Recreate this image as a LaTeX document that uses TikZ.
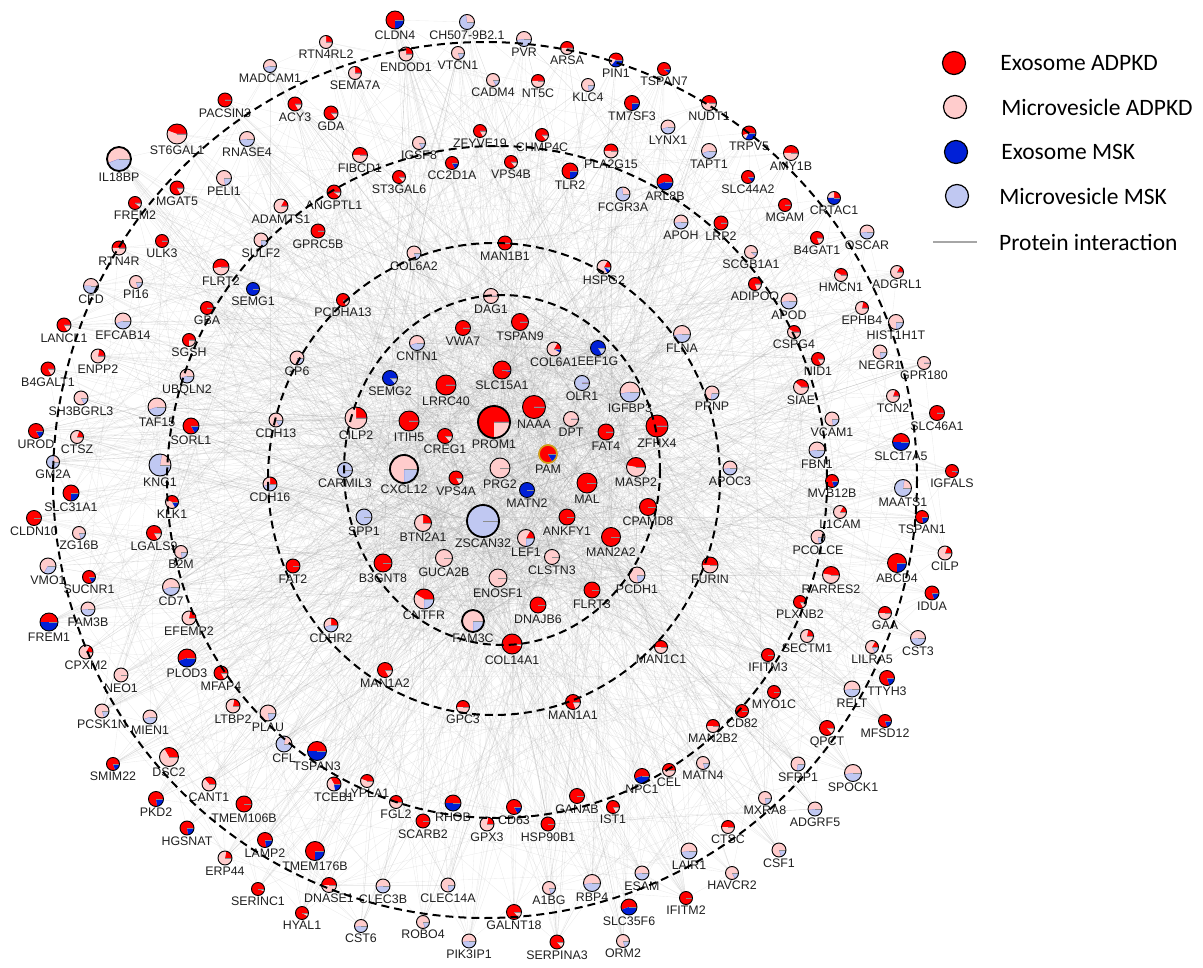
\documentclass[tikz,border=0pt]{standalone}
\usepackage{fontspec}
\setmainfont{Liberation Sans}
\newfontfamily\legfont{Carlito}
\usepackage{tikz}
\usetikzlibrary{positioning}
\usetikzlibrary{backgrounds}
\definecolor{exored}{RGB}{255,0,0}
\definecolor{mvpink}{RGB}{255,204,204}
\definecolor{exblue}{RGB}{0,32,215}
\definecolor{mvblue}{RGB}{192,200,242}
\definecolor{pamgold}{RGB}{214,160,20}
\tikzset{prot/.style={circle, draw=black, line width=.9pt, inner sep=0pt}}
\tikzset{lbl/.style={font=\fontsize{12.4}{13}\selectfont, text=black!88, inner sep=1pt}}
\tikzset{legtxt/.style={font=\legfont\fontsize{23.5}{26}\selectfont, inner sep=0pt}}
\tikzset{link/.style={draw=black!40, opacity=.2, line width=.35pt}}
\tikzset{ring/.style={draw=black, line width=2pt, dash pattern=on 8pt off 5pt}}
\tikzset{spoke/.style={draw=black!45, line width=.4pt}}
\newcount\protn
\newcommand{\prot}[8]{%
  \global\advance\protn by 1
  \fill[mvblue] (#2,#3) circle[radius=#4];
  \fill[exored] (#2,#3) -- +(0:#4) arc[start angle=0, end angle=-#5, radius=#4] -- cycle;
  \fill[mvpink] (#2,#3) -- +(-#5:#4) arc[start angle=-#5, end angle=-#6, radius=#4] -- cycle;
  \fill[exblue] (#2,#3) -- +(-#6:#4) arc[start angle=-#6, end angle=-#7, radius=#4] -- cycle;
  \draw[spoke] (#2,#3) -- +(0:#4);
  \node[prot, minimum size=2*#4pt, alias=p\the\protn, label={[lbl]below:#8}] (#1) at (#2,#3) {};
}
\begin{document}
\begin{tikzpicture}[x=1pt, y=-1pt, line join=round]
\useasboundingbox (0,0) rectangle (1203,968);
\prot{RTNFRLtwo}{326}{42}{6.5}{90}{360}{360}{RTN4RL2}
\prot{MADCAM1}{270}{66}{6.5}{0}{200}{200}{MADCAM1}
\prot{PACSIN3}{225}{100}{7}{360}{360}{360}{PACSIN3}
\prot{ACY3}{295}{104}{7}{300}{360}{360}{ACY3}
\prot{GDA}{331}{113}{7}{310}{360}{360}{GDA}
\prot{ST6GAL1}{177}{134}{10}{160}{360}{360}{ST6GAL1}
\prot{RNASE4}{247}{139}{7.5}{0}{190}{190}{RNASE4}
\prot{IL18BP}{119}{159}{12}{0}{200}{200}{IL18BP}
\prot{PELI1}{224}{178}{7.5}{0}{280}{280}{PELI1}
\prot{MGAT5}{177}{188}{7}{300}{360}{360}{MGAT5}
\prot{FREM2}{135}{203}{6.5}{320}{360}{360}{FREM2}
\prot{ADAMTS1}{281}{206}{7}{60}{360}{360}{ADAMTS1}
\prot{ANGPTL1}{334}{192}{7}{320}{360}{360}{ANGPTL1}
\prot{GPRC5B}{318}{231}{7}{360}{360}{360}{GPRC5B}
\prot{ULK3}{162}{241}{6.5}{360}{360}{360}{ULK3}
\prot{SULF2}{261}{240}{7}{0}{270}{270}{SULF2}
\prot{RTN4R}{119}{248}{7}{180}{360}{360}{RTN4R}
\prot{FLRT2}{221}{267}{8}{190}{360}{360}{FLRT2}
\prot{SEMG1}{253}{289}{6.5}{0}{0}{360}{SEMG1}
\prot{PI16}{136}{282}{6.5}{0}{290}{290}{PI16}
\prot{CFD}{91}{286}{7.5}{0}{180}{180}{CFD}
\prot{GBA}{207}{308}{6.5}{360}{360}{360}{GBA}
\prot{PCDHA13}{343}{300}{6.5}{300}{360}{360}{PCDHA13}
\prot{LANCL1}{64}{325}{7}{300}{360}{360}{LANCL1}
\prot{EFCAB14}{123}{321}{8}{0}{200}{200}{EFCAB14}
\prot{CLDN4}{395}{20}{9}{270}{270}{360}{CLDN4}
\prot{CH507}{467}{22}{7.5}{0}{100}{100}{CH507-9B2.1}
\prot{PVR}{524}{39}{7.5}{0}{190}{190}{PVR}
\prot{ARSA}{567}{48}{6.5}{180}{360}{360}{ARSA}
\prot{PIN1}{616}{60}{7}{160}{230}{360}{PIN1}
\prot{ENDOD1}{406}{54}{7}{90}{360}{360}{ENDOD1}
\prot{VTCN1}{458}{53}{6.5}{0}{290}{290}{VTCN1}
\prot{SEMA7A}{355}{73}{6.5}{90}{360}{360}{SEMA7A}
\prot{CADM4}{493}{80}{6.5}{0}{300}{300}{CADM4}
\prot{NT5C}{538}{81}{6.5}{180}{360}{360}{NT5C}
\prot{KLC4}{588}{85}{6.5}{0}{280}{280}{KLC4}
\prot{TM7SF3}{632}{103}{7.5}{270}{270}{360}{TM7SF3}
\prot{ZFYVE19}{480}{131}{6.5}{300}{360}{360}{ZFYVE19}
\prot{CHMP4C}{542}{135}{6.5}{310}{360}{360}{CHMP4C}
\prot{IGSF8}{419}{143}{6.5}{0}{300}{300}{IGSF8}
\prot{FIBCD1}{360}{155}{7.5}{180}{360}{360}{FIBCD1}
\prot{PLA2G15}{611}{151}{7}{180}{360}{360}{PLA2G15}
\prot{CC2D1A}{452}{163}{6.5}{300}{300}{360}{CC2D1A}
\prot{VPS4B}{511}{162}{6.5}{310}{360}{360}{VPS4B}
\prot{TLR2}{570}{171}{8}{270}{270}{360}{TLR2}
\prot{ST3GAL6}{399}{177}{6.5}{310}{360}{360}{ST3GAL6}
\prot{FCGR3A}{623}{194}{7}{0}{100}{100}{FCGR3A}
\prot{MAN1B1}{505}{243}{7}{360}{360}{360}{MAN1B1}
\prot{COL6A2}{414}{253}{7}{0}{290}{290}{COL6A2}
\prot{HSPG2}{604}{267}{7}{60}{300}{330}{HSPG2}
\prot{DAG1}{491}{296}{7.5}{0}{360}{360}{DAG1}
\prot{TSPAN7}{664}{69}{6.5}{320}{320}{360}{TSPAN7}
\prot{NUDT1}{709}{103}{7.5}{180}{360}{360}{NUDT1}
\prot{LYNX1}{668}{127}{7}{0}{200}{200}{LYNX1}
\prot{TRPV5}{749}{133}{7}{200}{240}{360}{TRPV5}
\prot{AMY1B}{791}{153}{7.5}{180}{360}{360}{AMY1B}
\prot{TAPT1}{709}{151}{7.5}{0}{200}{200}{TAPT1}
\prot{ARL8B}{665}{182}{8}{200}{200}{360}{ARL8B}
\prot{SLC44A2}{748}{177}{6.5}{310}{310}{360}{SLC44A2}
\prot{CRTAC1}{834}{198}{6.5}{90}{180}{360}{CRTAC1}
\prot{MGAM}{785}{205}{6.5}{360}{360}{360}{MGAM}
\prot{APOH}{681}{222}{7}{0}{190}{190}{APOH}
\prot{LRP2}{721}{223}{7}{360}{360}{360}{LRP2}
\prot{OSCAR}{867}{232}{7}{0}{190}{190}{OSCAR}
\prot{B4GAT1}{817}{238}{6.5}{290}{360}{360}{B4GAT1}
\prot{SCGB1A1}{751}{252}{6.5}{0}{320}{320}{SCGB1A1}
\prot{HMCN1}{841}{275}{6.5}{150}{360}{360}{HMCN1}
\prot{ADGRL1}{897}{272}{6.5}{60}{360}{360}{ADGRL1}
\prot{ADIPOQ}{755}{284}{6.5}{290}{360}{360}{ADIPOQ}
\prot{APOD}{789}{301}{8}{0}{190}{190}{APOD}
\prot{EPHB4}{862}{308}{6.5}{80}{360}{360}{EPHB4}
\prot{HIST1H1T}{896}{322}{7.5}{0}{270}{270}{HIST1H1T}
\prot{CSPG4}{794}{332}{6.5}{150}{360}{360}{CSPG4}
\prot{NEGR1}{880}{352}{7}{0}{280}{280}{NEGR1}
\prot{NID1}{818}{359}{6.5}{300}{360}{360}{NID1}
\prot{GPR180}{924}{363}{6.5}{0}{360}{360}{GPR180}
\prot{SIAE}{801}{387}{7.5}{140}{360}{360}{SIAE}
\prot{TCN2}{893}{396}{6.5}{70}{360}{360}{TCN2}
\prot{SLC46A1}{937}{413}{7.5}{360}{360}{360}{SLC46A1}
\prot{VCAM1}{832}{419}{7}{0}{280}{280}{VCAM1}
\prot{SLC17A5}{901}{442}{8.5}{180}{180}{360}{SLC17A5}
\prot{FBN1}{817}{450}{8}{0}{190}{190}{FBN1}
\prot{IGFALS}{952}{471}{6.5}{340}{340}{360}{IGFALS}
\prot{MVB12B}{832}{481}{6.5}{290}{290}{360}{MVB12B}
\prot{MAATS1}{903}{488}{8.5}{0}{80}{80}{MAATS1}
\prot{TSPAN1}{922}{517}{6.5}{280}{280}{360}{TSPAN1}
\prot{L1CAM}{840}{512}{6.5}{60}{360}{360}{L1CAM}
\prot{PCOLCE}{818}{537}{7}{0}{280}{280}{PCOLCE}
\prot{CILP}{945}{553}{7}{70}{360}{360}{CILP}
\prot{ABCD4}{897}{563}{9.5}{270}{270}{360}{ABCD4}
\prot{RARRES2}{831}{575}{8.5}{170}{360}{360}{RARRES2}
\prot{FLNA}{682}{334}{8.5}{0}{190}{190}{FLNA}
\prot{PRNP}{712}{393}{7}{0}{260}{260}{PRNP}
\prot{ZFHX4}{657}{426}{11}{360}{360}{360}{ZFHX4}
\prot{APOC3}{730}{468}{7}{0}{190}{190}{APOC3}
\prot{CPAMD8}{648}{507}{8.5}{360}{360}{360}{CPAMD8}
\prot{FURIN}{710}{565}{8}{180}{360}{360}{FURIN}
\prot{PLXNB2}{800}{602}{6.5}{300}{360}{360}{PLXNB2}
\prot{GAA}{885}{613}{6.5}{180}{360}{360}{GAA}
\prot{IDUA}{932}{593}{7}{290}{290}{360}{IDUA}
\prot{SECTM1}{807}{636}{6.5}{80}{360}{360}{SECTM1}
\prot{CST3}{918}{638}{7.5}{0}{190}{190}{CST3}
\prot{LILRA5}{872}{647}{6.5}{60}{300}{300}{LILRA5}
\prot{IFITM3}{768}{655}{6.5}{360}{360}{360}{IFITM3}
\prot{TTYH3}{887}{678}{7.5}{290}{290}{360}{TTYH3}
\prot{RELT}{852}{689}{8}{0}{190}{190}{RELT}
\prot{MYO1C}{774}{692}{6.5}{350}{360}{360}{MYO1C}
\prot{CD82}{742}{711}{6.5}{360}{360}{360}{CD82}
\prot{MFSD12}{885}{721}{6.5}{290}{290}{360}{MFSD12}
\prot{MAN2B2}{713}{726}{6.5}{180}{360}{360}{MAN2B2}
\prot{QPCT}{827}{728}{7.5}{310}{360}{360}{QPCT}
\prot{MATN4}{703}{763}{6.5}{0}{290}{290}{MATN4}
\prot{SFRP1}{798}{764}{7}{0}{260}{260}{SFRP1}
\prot{SPOCK1}{853}{773}{8.5}{0}{190}{190}{SPOCK1}
\prot{NPC1}{642}{776}{7.5}{200}{200}{360}{NPC1}
\prot{CEL}{669}{770}{6.5}{180}{360}{360}{CEL}
\prot{MXRA8}{765}{798}{6.5}{0}{280}{280}{MXRA8}
\prot{ADGRF5}{815}{809}{7}{0}{190}{190}{ADGRF5}
\prot{CTSC}{728}{827}{6.5}{180}{360}{360}{CTSC}
\prot{LAIR1}{689}{851}{8}{0}{190}{190}{LAIR1}
\prot{CSF1}{779}{850}{7}{0}{290}{290}{CSF1}
\prot{HAVCR2}{732}{873}{6.5}{0}{300}{300}{HAVCR2}
\prot{ESAM}{642}{873}{7}{0}{190}{190}{ESAM}
\prot{IFITM2}{686}{898}{6.5}{360}{360}{360}{IFITM2}
\prot{MAN1C1}{661}{647}{6.5}{180}{360}{360}{MAN1C1}
\edef\firstin{\the\numexpr\protn+1\relax}
\prot{VWA7}{463}{328}{7.5}{360}{360}{360}{VWA7}
\prot{TSPAN9}{520}{322}{8.5}{360}{360}{360}{TSPAN9}
\prot{CNTN1}{417}{343}{7.5}{0}{200}{200}{CNTN1}
\prot{COL6A1}{554}{349}{7}{60}{330}{360}{COL6A1}
\prot{EEF1G}{598}{348}{7.5}{0}{0}{300}{EEF1G}
\prot{SEMG2}{390}{378}{7.5}{0}{0}{310}{SEMG2}
\prot{SLC15A1}{502}{370}{9}{345}{345}{360}{SLC15A1}
\prot{LRRC40}{446}{385}{10}{360}{360}{360}{LRRC40}
\prot{OLR1}{582}{383}{7.5}{0}{0}{0}{OLR1}
\prot{IGFBP3}{630}{392}{10}{0}{190}{190}{IGFBP3}
\prot{NAAA}{534}{407}{11.5}{360}{360}{360}{NAAA}
\prot{PROM1}{494}{422}{16}{270}{360}{360}{PROM1}
\prot{CILP2}{356}{418}{11}{90}{360}{360}{CILP2}
\prot{ITIH5}{409}{421}{10}{360}{360}{360}{ITIH5}
\prot{DPT}{571}{419}{7.5}{0}{360}{360}{DPT}
\prot{FAT4}{606}{432}{8}{360}{360}{360}{FAT4}
\prot{CREG1}{445}{436}{7.5}{310}{360}{360}{CREG1}
\prot{PAM}{548}{454}{9}{300}{300}{360}{PAM}
\prot{CXCL12}{404}{469}{14}{0}{270}{270}{CXCL12}
\prot{PRG2}{500}{468}{10}{0}{360}{360}{PRG2}
\prot{MASP2}{636}{467}{9.5}{170}{360}{360}{MASP2}
\prot{CARMIL3}{345}{470}{7.5}{0}{0}{0}{CARMIL3}
\prot{VPS4A}{456}{478}{7}{300}{360}{360}{VPS4A}
\prot{MATN2}{527}{490}{7.5}{0}{0}{360}{MATN2}
\prot{MAL}{587}{483}{10}{360}{360}{360}{MAL}
\prot{SPP1}{364}{517}{8}{0}{0}{0}{SPP1}
\prot{ZSCAN32}{483}{521}{16}{0}{0}{0}{ZSCAN32}
\prot{BTN2A1}{423}{523}{8.5}{90}{360}{360}{BTN2A1}
\prot{ANKFY1}{567}{517}{8}{360}{360}{360}{ANKFY1}
\prot{LEF1}{526}{538}{8.5}{60}{270}{270}{LEF1}
\prot{MAN2A2}{611}{537}{9.5}{360}{360}{360}{MAN2A2}
\prot{B3GNT8}{383}{563}{9}{360}{360}{360}{B3GNT8}
\prot{GUCA2B}{444}{558}{8.5}{0}{360}{360}{GUCA2B}
\prot{CLSTN3}{552}{557}{7.5}{0}{360}{360}{CLSTN3}
\prot{ENOSF1}{498}{578}{9}{0}{360}{360}{ENOSF1}
\prot{PCDH1}{637}{575}{8}{0}{280}{280}{PCDH1}
\prot{FLRT3}{592}{590}{8}{360}{360}{360}{FLRT3}
\prot{CNTFR}{424}{599}{10}{150}{270}{270}{CNTFR}
\prot{DNAJB6}{538}{605}{8}{360}{360}{360}{DNAJB6}
\prot{FAM3C}{473}{621}{11}{0}{270}{270}{FAM3C}
\prot{COL14A1}{512}{644}{10}{345}{360}{360}{COL14A1}
\edef\lastin{\the\protn}
\prot{ENPP2}{98}{356}{7}{80}{360}{360}{ENPP2}
\prot{GP6}{297}{358}{7}{0}{290}{290}{GP6}
\prot{B4GALT1}{48}{369}{7}{300}{360}{360}{B4GALT1}
\prot{SGSH}{189}{340}{6.5}{270}{360}{360}{SGSH}
\prot{UBQLN2}{187}{376}{7}{0}{200}{200}{UBQLN2}
\prot{SH3BGRL3}{81}{398}{7}{0}{300}{300}{SH3BGRL3}
\prot{TAF15}{157}{407}{9}{0}{200}{200}{TAF15}
\prot{SORL1}{191}{426}{8}{300}{300}{360}{SORL1}
\prot{CDH13}{276}{420}{7}{0}{300}{300}{CDH13}
\prot{UROD}{36}{431}{7.5}{300}{300}{360}{UROD}
\prot{CTSZ}{77}{437}{6.5}{70}{360}{360}{CTSZ}
\prot{GM2A}{53}{462}{6.5}{0}{80}{80}{GM2A}
\prot{KNG1}{160}{465}{11}{0}{80}{80}{KNG1}
\prot{CDH16}{270}{484}{7}{90}{200}{200}{CDH16}
\prot{SLC31A1}{71}{493}{8}{270}{270}{360}{SLC31A1}
\prot{KLK1}{172}{502}{6.5}{160}{300}{360}{KLK1}
\prot{CLDN10}{34}{518}{7.5}{360}{360}{360}{CLDN10}
\prot{ZG16B}{79}{533}{6.5}{0}{290}{290}{ZG16B}
\prot{LGALS9}{154}{533}{7.5}{300}{360}{360}{LGALS9}
\prot{B2M}{181}{552}{6.5}{0}{280}{280}{B2M}
\prot{VMO1}{48}{566}{8}{0}{240}{240}{VMO1}
\prot{FAT2}{293}{566}{7}{360}{360}{360}{FAT2}
\prot{SUCNR1}{89}{577}{6.5}{300}{300}{360}{SUCNR1}
\prot{CD7}{171}{587}{8.5}{0}{200}{200}{CD7}
\prot{FAM3B}{88}{609}{7}{0}{190}{190}{FAM3B}
\prot{FREM1}{49}{622}{9}{180}{180}{360}{FREM1}
\prot{EFEMP2}{189}{618}{7}{80}{360}{360}{EFEMP2}
\prot{CDHR2}{331}{625}{7}{90}{200}{200}{CDHR2}
\prot{CPXM2}{86}{652}{7}{60}{360}{360}{CPXM2}
\prot{NEO1}{121}{675}{7}{0}{360}{360}{NEO1}
\prot{PLOD3}{187}{658}{9}{200}{200}{360}{PLOD3}
\prot{MFAP4}{221}{673}{7}{300}{360}{360}{MFAP4}
\prot{PCSK1N}{102}{711}{7}{0}{290}{290}{PCSK1N}
\prot{MIEN1}{150}{717}{7}{0}{200}{200}{MIEN1}
\prot{LTBP2}{233}{706}{7}{80}{360}{360}{LTBP2}
\prot{PLAU}{268}{713}{8}{0}{280}{280}{PLAU}
\prot{CFL}{284}{744}{8}{0}{80}{80}{CFL}
\prot{TSPAN3}{317}{751}{9.5}{180}{180}{360}{TSPAN3}
\prot{DSC2}{169}{757}{9.5}{120}{360}{360}{DSC2}
\prot{SMIM22}{113}{764}{6.5}{290}{290}{360}{SMIM22}
\prot{CANT1}{209}{784}{7}{130}{360}{360}{CANT1}
\prot{TCEB1}{334}{784}{7}{120}{280}{360}{TCEB1}
\prot{PKD2}{156}{799}{7.5}{280}{280}{360}{PKD2}
\prot{TMEM106B}{244}{804}{8}{360}{360}{360}{TMEM106B}
\prot{HGSNAT}{187}{828}{7}{280}{280}{360}{HGSNAT}
\prot{LAMP2}{265}{840}{7.5}{280}{280}{360}{LAMP2}
\prot{TMEM176B}{315}{851}{9.5}{270}{270}{360}{TMEM176B}
\prot{ERP44}{225}{858}{7}{80}{360}{360}{ERP44}
\prot{DNASE1}{329}{885}{7.5}{180}{360}{360}{DNASE1}
\prot{SERINC1}{258}{889}{6.5}{340}{360}{360}{SERINC1}
\prot{HYAL1}{302}{913}{6.5}{330}{360}{360}{HYAL1}
\prot{MAN1A2}{385}{670}{7.5}{300}{360}{360}{MAN1A2}
\prot{GPC3}{463}{707}{6.5}{180}{360}{360}{GPC3}
\prot{MAN1A1}{573}{702}{7.5}{290}{360}{360}{MAN1A1}
\prot{LYPLA1}{367}{781}{6.5}{160}{360}{360}{LYPLA1}
\prot{FGL2}{396}{802}{6.5}{160}{360}{360}{FGL2}
\prot{RHOB}{453}{803}{8}{180}{180}{360}{RHOB}
\prot{CD63}{514}{807}{7.5}{300}{300}{360}{CD63}
\prot{SCARB2}{423}{821}{7}{360}{360}{360}{SCARB2}
\prot{GPX3}{487}{824}{7}{80}{360}{360}{GPX3}
\prot{GANAB}{577}{796}{7.5}{360}{360}{360}{GANAB}
\prot{HSP90B1}{548}{824}{7}{360}{360}{360}{HSP90B1}
\prot{IST1}{613}{807}{6.5}{300}{360}{360}{IST1}
\prot{CLEC3B}{383}{886}{7}{0}{190}{190}{CLEC3B}
\prot{CLEC14A}{448}{885}{7}{0}{280}{280}{CLEC14A}
\prot{A1BG}{549}{888}{6.5}{0}{290}{290}{A1BG}
\prot{RBP4}{592}{883}{8.5}{0}{190}{190}{RBP4}
\prot{SLC35F6}{629}{907}{8}{200}{200}{360}{SLC35F6}
\prot{GALNT18}{514}{912}{7.5}{310}{360}{360}{GALNT18}
\prot{CST6}{361}{926}{6.5}{0}{190}{190}{CST6}
\prot{ROBO4}{423}{922}{6.5}{0}{290}{290}{ROBO4}
\prot{PIK3IP1}{469}{941}{7}{0}{190}{190}{PIK3IP1}
\prot{SERPINA3}{557}{942}{7}{310}{360}{360}{SERPINA3}
\prot{ORM2}{623}{941}{6.5}{0}{290}{290}{ORM2}
\foreach \n/\r in {PROM1/16,ZSCAN32/16,CXCL12/14,IL18BP/12,FAM3C/11}
  \draw[line width=1.8pt] (\n.center) circle[radius=\r];
\draw[pamgold, line width=1.6pt] (PAM.center) circle[radius=9];
\begin{scope}[on background layer]
\pgfmathsetseed{11}
\foreach \k in {1,...,800}{
  \pgfmathrandominteger{\a}{1}{\the\protn}
  \pgfmathrandominteger{\b}{1}{\the\protn}
  \draw[link] (p\a.center) -- (p\b.center);
}
\foreach \k in {1,...,1500}{
  \pgfmathrandominteger{\a}{1}{\the\protn}
  \pgfmathrandominteger{\b}{\firstin}{\lastin}
  \draw[link] (p\a.center) -- (p\b.center);
}
\end{scope}
\draw[ring] (485,480) ellipse[x radius=432, y radius=438];
\draw[ring] (497,482) ellipse[x radius=330, y radius=336];
\draw[ring] (494,479) ellipse[x radius=226, y radius=236];
\draw[ring] (502,470) ellipse[x radius=158, y radius=175];
\node[prot, fill=exored, minimum size=23pt, line width=1.2pt] (legexo) at (954,63) {};
\node[prot, fill=mvpink, minimum size=23pt, line width=1.2pt] (legmvp) at (955,107) {};
\node[prot, fill=exblue, minimum size=23pt, line width=1.2pt] (legexm) at (956,152) {};
\node[prot, fill=mvblue, minimum size=23pt, line width=1.2pt] (legmvm) at (957,196) {};
\coordinate (lega) at (933,242);
\coordinate (legb) at (977,242);
\draw[black!35, line width=1.5pt] (lega) -- (legb);
\node[legtxt, right=34pt of legexo] (tEA) {Exosome ADPKD};
\node[legtxt, right=34pt of legmvp] (tMA) {Microvesicle ADPKD};
\node[legtxt, right=33pt of legexm] (tEM) {Exosome MSK};
\node[legtxt, right=30pt of legmvm] (tMM) {Microvesicle MSK};
\node[legtxt, right=22pt of legb] (tPI) {Protein interaction};
\end{tikzpicture}
\end{document}
